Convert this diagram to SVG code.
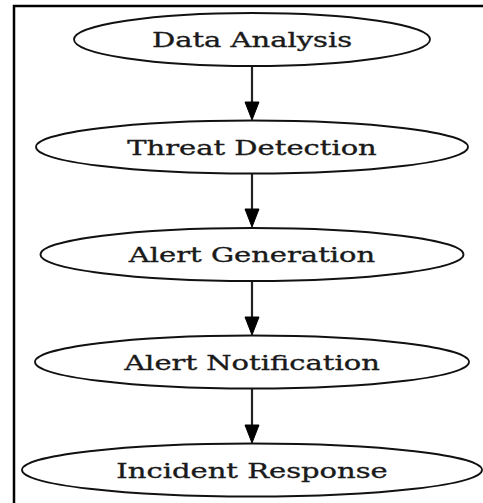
<svg xmlns="http://www.w3.org/2000/svg" width="483" height="503" viewBox="0 0 483 503">
<style>
.node ellipse{fill:#fff;stroke:#111;stroke-width:1.8}
.node text{font-family:"DejaVu Serif","Liberation Serif",serif;font-size:20px;fill:#1a1a1a;stroke:#1a1a1a;stroke-width:0.35;text-anchor:middle}
.edge{stroke:#222;stroke-width:2.2;fill:none}
.head{fill:#000;stroke:#000;stroke-width:1}
.frame{stroke:#000;stroke-width:2.5;fill:none}
</style>
<rect width="483" height="503" fill="#fff"/>
<path class="frame" d="M14,503 V6 H483"/>
<g id="edges">
<line class="edge" x1="252" y1="66" x2="252" y2="103"/>
<polygon class="head" points="245,102 259,102 252,120"/>
<line class="edge" x1="252" y1="174" x2="252" y2="210"/>
<polygon class="head" points="245,209 259,209 252,227"/>
<line class="edge" x1="252" y1="281" x2="252" y2="318"/>
<polygon class="head" points="245,317 259,317 252,335"/>
<line class="edge" x1="252" y1="389" x2="252" y2="426"/>
<polygon class="head" points="245,425 259,425 252,443"/>
</g>
<g id="n1" class="node"><ellipse cx="252" cy="39.5" rx="178" ry="26.5"/><text transform="translate(252,47) scale(1.45,1)">Data Analysis</text></g>
<g id="n2" class="node"><ellipse cx="252" cy="147" rx="216" ry="26.5"/><text transform="translate(252,154.5) scale(1.45,1)">Threat Detection</text></g>
<g id="n3" class="node"><ellipse cx="252" cy="254.5" rx="211.5" ry="26.5"/><text transform="translate(252,262) scale(1.45,1)">Alert Generation</text></g>
<g id="n4" class="node"><ellipse cx="252" cy="362" rx="217" ry="26.5"/><text transform="translate(252,369.5) scale(1.45,1)">Alert Notification</text></g>
<g id="n5" class="node"><ellipse cx="252" cy="470" rx="230" ry="26.5"/><text transform="translate(252,477.5) scale(1.45,1)">Incident Response</text></g>
</svg>
